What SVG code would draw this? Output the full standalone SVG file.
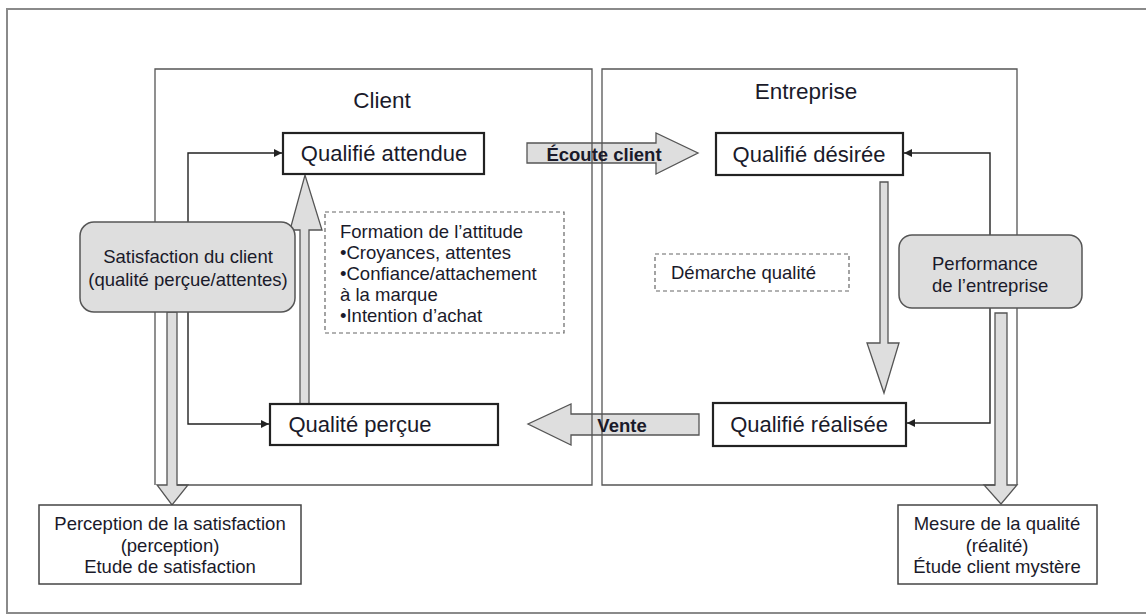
<svg xmlns="http://www.w3.org/2000/svg" width="1146" height="615" viewBox="0 0 1146 615">
<style>
text{font-family:"Liberation Sans",Arial,sans-serif;fill:#1a1a2a}
.frame{fill:none;stroke:#8a8a8a;stroke-width:2}
.panel{fill:none;stroke:#555;stroke-width:1.3}
.box{fill:#fff;stroke:#222;stroke-width:2.2}
.rbox{fill:#dedede;stroke:#555;stroke-width:1.5}
.dash{fill:#fff;stroke:#666;stroke-width:1.2;stroke-dasharray:4 3}
.plain{fill:#fff;stroke:#444;stroke-width:1.5}
.fat{fill:#dedede;stroke:#555;stroke-width:1.3;stroke-linejoin:miter}
.con{fill:none;stroke:#222;stroke-width:1.4}
.bt{font-size:22px;text-anchor:middle}
.st{font-size:18.5px}
.mid{text-anchor:middle}
.bold{font-weight:bold;font-size:18.5px}
</style>
<defs>
<marker id="ah" viewBox="0 0 10 10" refX="10" refY="5" markerWidth="8" markerHeight="8" markerUnits="userSpaceOnUse" orient="auto">
<path d="M0,0 L10,5 L0,10 z" fill="#222"/>
</marker>
</defs>
<rect class="frame" x="7" y="9" width="1145" height="604"/>

<g id="connectors">
<path class="fat" d="M527,143 L656,143 L656,133 L698,153 L656,174 L656,163 L527,163 Z"/>
<path class="fat" d="M699,414 L571,414 L571,404 L528,424 L571,445 L571,435 L699,435 Z"/>
<path class="fat" d="M300,405 L300,230 L290,230 L305,175 L322,230 L309,230 L309,405 Z"/>
<path class="fat" d="M880,182 L888,182 L888,343 L899,343 L884,393 L867,343 L880,343 Z"/>
<path class="fat" d="M167,312 L177,312 L177,485 L188,485 L172,505 L157,485 L167,485 Z"/>
<path class="fat" d="M995,313 L1007,313 L1007,485 L1017,485 L1001,504 L984,485 L995,485 Z"/>
<path class="con" d="M188,222 L188,153 L282,153" marker-end="url(#ah)"/>
<path class="con" d="M188,312 L188,424 L269,424" marker-end="url(#ah)"/>
<path class="con" d="M990,235 L990,153 L904,153" marker-end="url(#ah)"/>
<path class="con" d="M990,308 L990,423 L907,423" marker-end="url(#ah)"/>
</g>

<g id="panels">
<path class="panel" d="M155,485 L155,69 L592,69 L592,485 L177,485"/>
<path class="panel" d="M995,485 L602,485 L602,69 L1017,69 L1017,485"/>
</g>
<text x="382" y="108" style="font-size:22.5px" class="mid">Client</text>
<text x="806" y="99" style="font-size:22.5px" class="mid">Entreprise</text>
<text x="604" y="161" class="bold" text-anchor="middle">Écoute client</text>
<text x="622" y="432" class="bold" text-anchor="middle">Vente</text>

<g id="satisfaction">
<rect class="rbox" x="80" y="222" width="215" height="90" rx="14"/>
<text x="188" y="263" class="st mid">Satisfaction du client</text>
<text x="188" y="286" class="st mid">(qualité perçue/attentes)</text>
</g>
<g id="performance">
<rect class="rbox" x="899" y="235" width="183" height="73" rx="13"/>
<text x="932" y="270" class="st">Performance</text>
<text x="932" y="292" class="st">de l’entreprise</text>
</g>
<g id="qualite-attendue">
<rect class="box" x="283" y="133" width="201" height="41"/>
<text x="384" y="161" class="bt">Qualifié attendue</text>
</g>
<g id="qualite-percue">
<rect class="box" x="270" y="404" width="228" height="41"/>
<text x="360" y="432" class="bt">Qualité perçue</text>
</g>
<g id="qualite-desiree">
<rect class="box" x="716" y="133" width="187" height="42"/>
<text x="809" y="162" class="bt">Qualifié désirée</text>
</g>
<g id="qualite-realisee">
<rect class="box" x="713" y="403" width="193" height="43"/>
<text x="809" y="432" class="bt">Qualifié réalisée</text>
</g>
<g id="formation">
<rect class="dash" x="325" y="212" width="239" height="121"/>
<text x="340" y="238" class="st">Formation de l’attitude</text>
<text x="340" y="259" class="st">•Croyances, attentes</text>
<text x="340" y="280" class="st">•Confiance/attachement</text>
<text x="340" y="301" class="st">à la marque</text>
<text x="340" y="322" class="st">•Intention d’achat</text>
</g>
<g id="demarche">
<rect class="dash" x="655" y="254" width="194" height="37"/>
<text x="671" y="279" class="st">Démarche qualité</text>
</g>
<g id="perception">
<rect class="plain" x="39" y="505" width="262" height="79"/>
<text x="170" y="530" class="st mid">Perception de la satisfaction</text>
<text x="170" y="552" class="st mid">(perception)</text>
<text x="170" y="573" class="st mid">Etude de satisfaction</text>
</g>
<g id="mesure">
<rect class="plain" x="898" y="505" width="199" height="79"/>
<text x="997" y="530" class="st mid">Mesure de la qualité</text>
<text x="997" y="552" class="st mid">(réalité)</text>
<text x="997" y="573" class="st mid">Étude client mystère</text>
</g>
</svg>
